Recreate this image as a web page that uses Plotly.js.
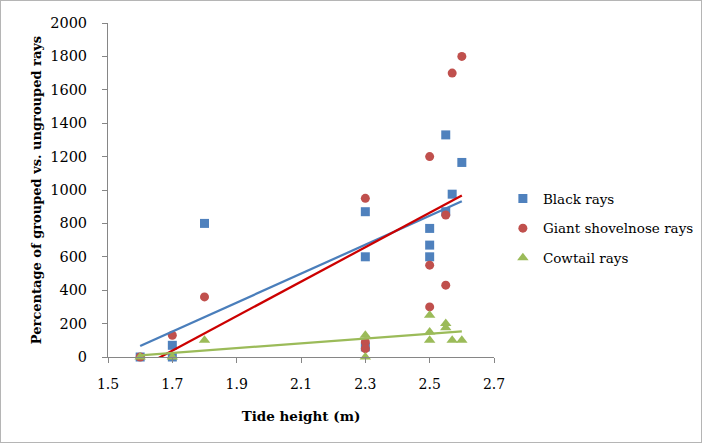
<!DOCTYPE html>
<html>
<head>
<meta charset="utf-8">
<script src="https://cdn.plot.ly/plotly-3.0.1.min.js"></script>
<style>
  html, body { margin: 0; padding: 0; background: #fff; }
  #chart { width: 700px; height: 441px; border: 1px solid #b5b5b5; }
</style>
</head>
<body>
<div id="chart"></div>
<script>
// Tide height (m) and percentage of grouped vs. ungrouped rays, per species
const blackX = [1.6, 1.7, 1.7, 1.8, 2.3, 2.3, 2.3, 2.5, 2.5, 2.5, 2.55, 2.55, 2.57, 2.6];
const blackY = [0, 70, 0, 800, 870, 600, 60, 770, 670, 600, 1330, 870, 975, 1165];

const shovelX = [1.6, 1.7, 1.8, 2.3, 2.3, 2.3, 2.5, 2.5, 2.5, 2.55, 2.55, 2.57, 2.6];
const shovelY = [0, 130, 360, 950, 90, 50, 1200, 550, 300, 850, 430, 1700, 1800];

const cowX = [1.6, 1.7, 1.8, 2.3, 2.3, 2.5, 2.5, 2.5, 2.55, 2.55, 2.57, 2.6];
const cowY = [0, 0, 100, 130, 0, 250, 150, 100, 200, 175, 100, 100];

const seriesNames = ['Black rays', 'Giant shovelnose rays', 'Cowtail rays'];
const xTicks = [1.5, 1.7, 1.9, 2.1, 2.3, 2.5, 2.7];
const yTicks = [0, 200, 400, 600, 800, 1000, 1200, 1400, 1600, 1800, 2000];

// least-squares linear trend spanning the series' x extent
function linearTrend(xs, ys) {
  const n = xs.length;
  const mx = xs.reduce((a, b) => a + b, 0) / n;
  const my = ys.reduce((a, b) => a + b, 0) / n;
  let sxy = 0, sxx = 0;
  for (let i = 0; i < n; i++) {
    sxy += (xs[i] - mx) * (ys[i] - my);
    sxx += (xs[i] - mx) * (xs[i] - mx);
  }
  const slope = sxy / sxx;
  const x0 = Math.min(...xs), x1 = Math.max(...xs);
  return { x: [x0, x1], y: [my + slope * (x0 - mx), my + slope * (x1 - mx)] };
}

const FONT = 'DejaVu Serif, Liberation Serif, serif';

function points(xs, ys, name, color, symbol, size, group) {
  return {
    type: 'scatter', mode: 'markers', x: xs, y: ys, name: name,
    legendgroup: group,
    marker: { color: color, symbol: symbol, size: size, line: { width: 0 } },
    cliponaxis: false, hoverinfo: 'x+y'
  };
}
function trend(xs, ys, color, group) {
  const t = linearTrend(xs, ys);
  return {
    type: 'scatter', mode: 'lines', x: t.x, y: t.y, showlegend: false,
    legendgroup: group, line: { color: color, width: 2.25 }, hoverinfo: 'skip'
  };
}

// markers first, trend lines drawn on top of them
const data = [
  points(blackX, blackY, seriesNames[0], '#4f81bd', 'square', 9, 'a'),
  points(shovelX, shovelY, seriesNames[1], '#c0504d', 'circle', 9, 'b'),
  points(cowX, cowY, seriesNames[2], '#9bbb59', 'triangle-up', 10, 'c'),
  trend(blackX, blackY, '#4a7ebb', 'a'),
  trend(shovelX, shovelY, '#cc0000', 'b'),
  trend(cowX, cowY, '#9bbb59', 'c')
];

const layout = {
  width: 700, height: 441,
  margin: { l: 107, r: 207, t: 22, b: 85, autoexpand: false },
  paper_bgcolor: '#fff', plot_bgcolor: '#fff',
  font: { family: FONT, size: 14, color: '#000' },
  showlegend: true,
  legend: {
    x: 1.023, y: 0.52, xanchor: 'left', yanchor: 'top',
    font: { family: FONT, size: 13.5, color: '#000' },
    tracegroupgap: 9, itemwidth: 30, bgcolor: 'rgba(0,0,0,0)', borderwidth: 0
  },
  xaxis: {
    range: [1.5, 2.7], tickvals: xTicks, ticktext: xTicks.map(v => v.toFixed(1)),
    showgrid: false, zeroline: false, showline: true, linecolor: '#868686', linewidth: 1,
    ticks: 'outside', ticklen: 5, tickcolor: '#868686', tickfont: { family: FONT, size: 14 },
    ticklabelstandoff: 9,
    title: { text: '<b>Tide height (m)</b>', font: { family: FONT, size: 13.5 }, standoff: 20 }
  },
  yaxis: {
    range: [0, 2000], tickvals: yTicks,
    showgrid: false, zeroline: false, showline: true, linecolor: '#868686', linewidth: 1,
    ticks: 'outside', ticklen: 5, tickcolor: '#868686', tickfont: { family: FONT, size: 14.5 },
    ticklabelstandoff: 12,
    title: { text: '<b>Percentage of grouped vs. ungrouped rays</b>', font: { family: FONT, size: 13 }, standoff: 5 }
  }
};

Plotly.newPlot('chart', data, layout, { displayModeBar: false, staticPlot: true });
</script>
</body>
</html>
